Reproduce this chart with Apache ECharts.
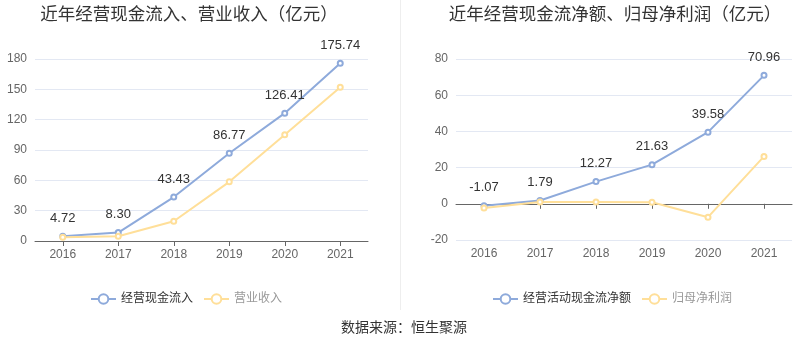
<!DOCTYPE html>
<html><head><meta charset="utf-8">
<script src="https://cdn.jsdelivr.net/npm/echarts@6/dist/echarts.min.js"></script>
<style>html,body{margin:0;padding:0;background:#fff}#c{width:800px;height:358px}</style>
</head><body><div id="c"></div>
<script>
const years = ['2016','2017','2018','2019','2020','2021'];
const cashInflow = [4.72, 8.30, 43.43, 86.77, 126.41, 175.74];
const revenue = [3.7, 4.7, 19.5, 58.5, 105, 152];
const netCashFlow = [-1.07, 1.79, 12.27, 21.63, 39.58, 70.96];
const netProfit = [-2.3, 1.0, 1.0, 0.9, -7.4, 26.2];
const leftTicks = {min: 0, max: 180, interval: 30};
const rightTicks = {min: -20, max: 80, interval: 20};

const blue = '#8eaadb', yellow = '#ffdf99';
const font = '"Liberation Sans", "Noto Sans CJK SC", sans-serif';
const chart = echarts.init(document.getElementById('c'));
function xAxis(i){return {type:'category', gridIndex:i, data:years, boundaryGap:true,
  axisLine:{lineStyle:{color:'#666'}}, axisTick:{show:true, alignWithLabel:true, lineStyle:{color:'#666'}},
  axisLabel:{color:'#666', fontSize:12, margin:8}};}
function yAxis(i,t){return {type:'value', gridIndex:i, min:t.min, max:t.max, interval:t.interval,
  axisLine:{show:false}, axisTick:{show:false}, axisLabel:{color:'#666', fontSize:12},
  splitLine:{lineStyle:{color:'#e3e8f3'}}};}
function line(name, data, color, xi, label){return {name, type:'line', xAxisIndex:xi, yAxisIndex:xi, data,
  symbol:'emptyCircle', symbolSize:5, lineStyle:{color, width:2}, itemStyle:{color, borderWidth:1.5},
  label:{show:label, position:'top', color:'#333', fontSize:13, distance:8, formatter:p=>p.value.toFixed(2)}};}
chart.setOption({
  animation:false,
  textStyle:{fontFamily:font},
  title:[
    {text:'近年经营现金流入、营业收入（亿元）', left:184, top:1, textAlign:'center', textStyle:{fontSize:17.5, fontWeight:'normal', color:'#333'}},
    {text:'近年经营现金流净额、归母净利润（亿元）', left:610, top:1, textAlign:'center', textStyle:{fontSize:17.5, fontWeight:'normal', color:'#333'}},
    {text:'数据来源：恒生聚源', left:399, top:316, textAlign:'center', textStyle:{fontSize:14, fontWeight:'normal', color:'#333'}}
  ],
  legend:[
    {data:[{name:'经营现金流入', textStyle:{color:'#333'}},{name:'营业收入', textStyle:{color:'#999'}}], left:85, top:288, itemWidth:25, itemHeight:12, itemGap:10, textStyle:{fontSize:12}},
    {data:[{name:'经营活动现金流净额', textStyle:{color:'#333'}},{name:'归母净利润', textStyle:{color:'#999'}}], left:487, top:288, itemWidth:25, itemHeight:12, itemGap:10, textStyle:{fontSize:12}}
  ],
  grid:[
    {left:35, right:432, top:59, bottom:117},
    {left:456, right:8, top:59, bottom:118}
  ],
  xAxis:[xAxis(0), xAxis(1)],
  yAxis:[yAxis(0,leftTicks), yAxis(1,rightTicks)],
  series:[
    line('经营现金流入', cashInflow, blue, 0, true),
    line('营业收入', revenue, yellow, 0, false),
    line('经营活动现金流净额', netCashFlow, blue, 1, true),
    line('归母净利润', netProfit, yellow, 1, false)
  ],
  graphic:[{type:'line', shape:{x1:400.5,y1:0,x2:400.5,y2:310}, style:{stroke:'#eeeeee', lineWidth:1}}]
});
</script></body></html>
